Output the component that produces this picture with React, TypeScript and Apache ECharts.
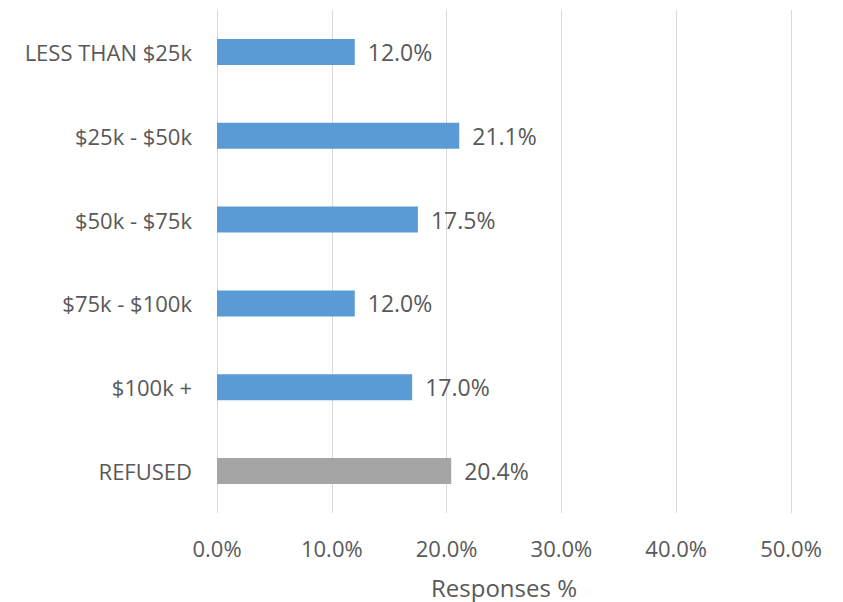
import React, { useEffect, useRef } from "react";
import * as echarts from "echarts";

const categories = ["LESS THAN $25k", "$25k - $50k", "$50k - $75k", "$75k - $100k", "$100k +", "REFUSED"];
const values = [12.0, 21.1, 17.5, 12.0, 17.0, 20.4];
const barColors = ["#5B9BD5", "#5B9BD5", "#5B9BD5", "#5B9BD5", "#5B9BD5", "#A5A5A5"];
const xTicks = [0, 10, 20, 30, 40, 50];

const FONT = "Open Sans";
const TEXT = "#595959";

export default function App() {
  const ref = useRef<HTMLDivElement>(null);
  useEffect(() => {
    const chart = echarts.init(ref.current!, null, { renderer: "svg" });
    chart.setOption({
      animation: false,
      backgroundColor: "#ffffff",
      grid: { left: 217, right: 52, top: 10, bottom: 89, containLabel: false, outerBoundsMode: "none" },
      xAxis: {
        type: "value",
        min: xTicks[0],
        max: xTicks[xTicks.length - 1],
        interval: 10,
        name: "Responses %",
        nameLocation: "middle",
        nameGap: 62,
        nameTextStyle: { color: TEXT, fontSize: 24, fontFamily: FONT },
        axisLine: { show: false },
        axisTick: { show: false },
        axisLabel: {
          color: TEXT,
          fontSize: 22,
          fontFamily: FONT,
          margin: 24,
          formatter: (v: number) => v.toFixed(1) + "%",
        },
        splitLine: { show: true, lineStyle: { color: "#D9D9D9", width: 1 } },
      },
      yAxis: {
        type: "category",
        data: categories,
        inverse: true,
        axisLine: { show: false },
        axisTick: { show: false },
        axisLabel: { color: TEXT, fontSize: 22, fontFamily: FONT, margin: 25 },
        splitLine: { show: false },
      },
      series: [
        {
          type: "bar",
          data: values.map((v, i) => ({ value: v, itemStyle: { color: barColors[i] } })),
          barWidth: 26,
          label: {
            show: true,
            position: "right",
            distance: 13,
            color: TEXT,
            fontSize: 23,
            fontFamily: FONT,
            formatter: (p: any) => Number(p.value).toFixed(1) + "%",
          },
        },
      ],
    });
    return () => chart.dispose();
  }, []);
  return <div ref={ref} style={{ width: 843, height: 602, position: "absolute", left: 0, top: 0 }} />;
}
